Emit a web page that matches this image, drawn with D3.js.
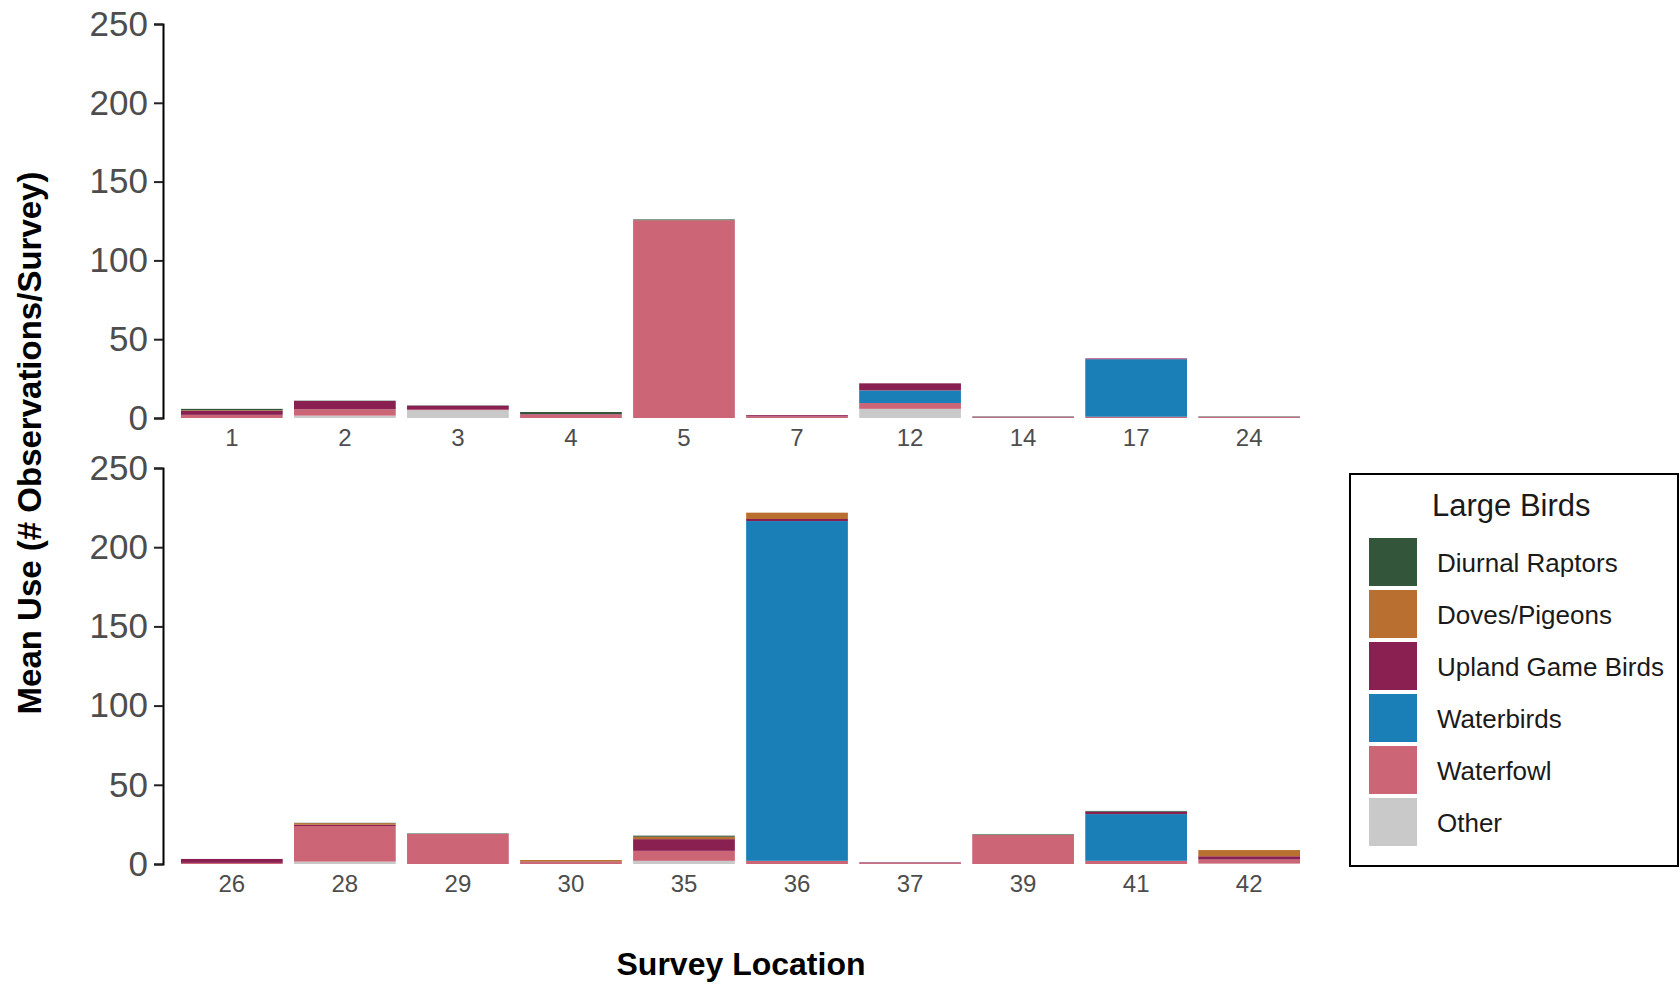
<!DOCTYPE html>
<html>
<head>
<meta charset="utf-8">
<script src="https://cdnjs.cloudflare.com/ajax/libs/d3/7.8.5/d3.min.js"></script>
<style>
  body { margin: 0; background: #fff; }
  svg { font-family: "Liberation Sans", Arial, sans-serif; }
</style>
</head>
<body>
<svg id="chart"></svg>
<script>
var width = 1680;
var height = 984;

// categories, top of stack first (same order as legend)
var categories = ["Diurnal Raptors", "Doves/Pigeons", "Upland Game Birds", "Waterbirds", "Waterfowl", "Other"];
var colors = ["#33553a", "#b96f2f", "#8a1f52", "#1a7fb6", "#cc6677", "#c9c9c9"];
var yTicks = [0, 50, 100, 150, 200, 250];

// top panel
var topSites = ["1", "2", "3", "4", "5", "7", "12", "14", "17", "24"];
var topRaptors    = [0.9, 0.2, 0.2, 1.3, 0.5, 0,   0,   0.2, 0,    0.2];
var topDoves      = [0.4, 0,   0,   0,   0,   0,   0,   0,   0,    0];
var topUpland     = [2.5, 5.3, 2.5, 0.3, 0,   0.8, 4.5, 0.4, 0.5,  0.3];
var topWaterbirds = [0,   0,   0,   0,   0,   0,   8,   0,   36.5, 0];
var topWaterfowl  = [2,   4,   0.3, 2.2, 125.5, 1, 3.7, 0.4, 0.8,  0.5];
var topOther      = [0,   1.5, 5,   0,   0,   0,   5.8, 0,   0,    0];

// bottom panel
var botSites = ["26", "28", "29", "30", "35", "36", "37", "39", "41", "42"];
var botRaptors    = [0,   0.2,  0.3, 0,   0.7, 0,     0,   0.4,  0.5,  0];
var botDoves      = [0,   1.0,  0,   1.0, 1.5, 4,     0,   0,    0,    3.9];
var botUpland     = [2.5, 0.8,  0,   0.3, 7.4, 1.3,   0.5, 0,    1.5,  2.1];
var botWaterbirds = [0,   0,    0,   0,   0,   214.5, 0,   0,    29.5, 0];
var botWaterfowl  = [0.7, 22.5, 19,  1.2, 6.3, 2,     0.5, 18.3, 2,    2.5];
var botOther      = [0,   1.5,  0,   0,   2,   0,     0,   0,    0,    0.3];

var svg = d3.select('#chart')
    .attr('width', width)
    .attr('height', height);

var left = 164, right = 1317;

function buildRows(sites, series) {
    return sites.map(function(s, i) {
        var row = { site: s };
        categories.forEach(function(c, k) { row[c] = series[k][i]; });
        return row;
    });
}

function drawPanel(sites, series, yTop, yBottom) {
    var rows = buildRows(sites, series);

    var x = d3.scaleBand()
        .domain(sites)
        .range([left, right])
        .paddingInner(0.1)
        .paddingOuter(0.15);

    var y = d3.scaleLinear()
        .domain([0, 250])
        .range([yBottom, yTop]);

    // bottom of stack is "Other", top is "Diurnal Raptors"
    var stack = d3.stack().keys(categories.slice().reverse());
    var layers = stack(rows);

    var g = svg.append('g');
    g.selectAll('g.layer')
        .data(layers)
        .enter()
        .append('g')
        .attr('class', 'layer')
        .style('fill', function(d) { return colors[categories.indexOf(d.key)]; })
        .selectAll('rect')
        .data(function(d) { return d; })
        .enter()
        .append('rect')
        .attr('x', function(d) { return x(d.data.site); })
        .attr('width', x.bandwidth())
        .attr('y', function(d) { return y(d[1]); })
        .attr('height', function(d) { return y(d[0]) - y(d[1]); });

    var yAxis = d3.axisLeft(y).tickValues(yTicks).tickSize(9).tickPadding(6);
    var ya = svg.append('g')
        .attr('transform', 'translate(' + (left - 1) + ',0)')
        .call(yAxis);
    ya.select('.domain').attr('stroke', '#000').attr('stroke-width', 2);
    ya.selectAll('.tick line').attr('stroke', '#222').attr('stroke-width', 2);
    ya.selectAll('.tick text')
        .attr('fill', '#4d4d4d')
        .style('font-size', '35px');

    var xAxis = d3.axisBottom(x).tickSize(0).tickPadding(11);
    var xa = svg.append('g')
        .attr('transform', 'translate(0,' + yBottom + ')')
        .call(xAxis);
    xa.select('.domain').remove();
    xa.selectAll('.tick text')
        .attr('fill', '#4d4d4d')
        .style('font-size', '24px');
}

drawPanel(topSites, [topRaptors, topDoves, topUpland, topWaterbirds, topWaterfowl, topOther], 24, 418);
drawPanel(botSites, [botRaptors, botDoves, botUpland, botWaterbirds, botWaterfowl, botOther], 468, 864);

// axis titles
svg.append('text')
    .attr('transform', 'translate(29,443) rotate(-90)')
    .attr('text-anchor', 'middle')
    .attr('dominant-baseline', 'central')
    .style('font-weight', 'bold')
    .style('font-size', '33px')
    .attr('fill', '#000')
    .text('Mean Use (# Observations/Survey)');

svg.append('text')
    .attr('x', 741)
    .attr('y', 975)
    .attr('text-anchor', 'middle')
    .style('font-weight', 'bold')
    .style('font-size', '32px')
    .attr('fill', '#000')
    .text('Survey Location');

// legend
var legend = svg.append('g');
legend.append('rect')
    .attr('x', 1350).attr('y', 474)
    .attr('width', 328).attr('height', 392)
    .style('fill', '#fff')
    .style('stroke', '#000')
    .style('stroke-width', 2);

legend.append('text')
    .attr('x', 1432).attr('y', 516)
    .style('font-size', '31px')
    .attr('fill', '#1a1a1a')
    .text('Large Birds');

var items = legend.selectAll('g.item')
    .data(categories)
    .enter()
    .append('g')
    .attr('class', 'item')
    .attr('transform', function(d, i) { return 'translate(1369,' + (538 + i * 52) + ')'; });

items.append('rect')
    .attr('width', 48).attr('height', 48)
    .style('fill', function(d, i) { return colors[i]; });

items.append('text')
    .attr('x', 68).attr('y', 34)
    .style('font-size', '26px')
    .attr('fill', '#1a1a1a')
    .text(function(d) { return d; });
</script>
</body>
</html>
